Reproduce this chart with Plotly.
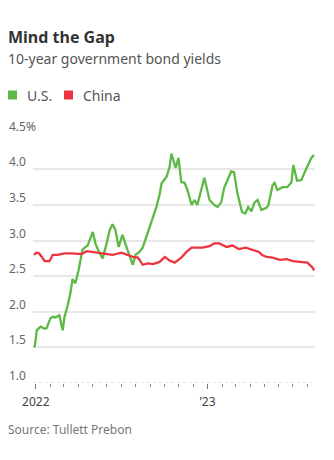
import plotly.graph_objects as go

# ---- data ----
us_dates = ["2021-12-28","2021-12-30","2022-01-03","2022-01-11","2022-01-20","2022-01-24","2022-02-01",
            "2022-02-06","2022-02-12","2022-02-20","2022-02-27","2022-03-03","2022-03-09","2022-03-16",
            "2022-03-20","2022-03-26","2022-04-02","2022-04-06","2022-04-10","2022-04-15","2022-04-21",
            "2022-05-02","2022-05-08","2022-05-16","2022-05-23","2022-05-31","2022-06-07","2022-06-13",
            "2022-06-19","2022-06-26","2022-07-04","2022-07-13","2022-07-19","2022-07-26","2022-08-01",
            "2022-08-09","2022-08-16","2022-08-24","2022-08-30","2022-09-08","2022-09-14","2022-09-21",
            "2022-09-25","2022-10-06","2022-10-12","2022-10-16","2022-10-25","2022-10-31","2022-11-06",
            "2022-11-13","2022-11-19","2022-11-28","2022-12-04","2022-12-10","2022-12-19","2022-12-25",
            "2023-01-05","2023-01-15","2023-01-22","2023-01-30","2023-02-05","2023-02-16","2023-02-20",
            "2023-02-26","2023-03-05","2023-03-15","2023-03-22","2023-03-28","2023-04-04","2023-04-10",
            "2023-04-17","2023-04-25","2023-05-06","2023-05-10","2023-05-19","2023-05-23","2023-05-29",
            "2023-06-09","2023-06-19","2023-06-28","2023-07-02","2023-07-10","2023-07-19","2023-07-29",
            "2023-08-09","2023-08-15"]
us_values = [1.50, 1.52, 1.74, 1.79, 1.76, 1.77, 1.91,
             1.93, 1.92, 1.95, 1.74, 1.93, 2.07, 2.28,
             2.46, 2.40, 2.59, 2.75, 2.87, 2.90, 2.93,
             3.12, 2.95, 2.83, 2.75, 2.95, 3.15, 3.23,
             3.15, 2.91, 3.08, 2.90, 2.80, 2.66, 2.80,
             2.84, 2.90, 3.05, 3.19, 3.33, 3.47, 3.65,
             3.80, 3.90, 4.03, 4.22, 4.02, 4.16, 3.82,
             3.81, 3.71, 3.50, 3.57, 3.50, 3.75, 3.88,
             3.57, 3.50, 3.47, 3.54, 3.74, 3.90, 3.97,
             3.96, 3.67, 3.40, 3.38, 3.47, 3.41, 3.53,
             3.57, 3.43, 3.46, 3.50, 3.78, 3.81, 3.71,
             3.75, 3.75, 3.82, 4.06, 3.84, 3.85, 4.00,
             4.16, 4.20]

cn_dates = ["2021-12-28","2022-01-02","2022-01-08","2022-01-14","2022-01-20","2022-01-30","2022-02-06",
            "2022-02-16","2022-03-03","2022-03-18","2022-04-08","2022-04-19","2022-05-02","2022-05-23",
            "2022-06-13","2022-07-02","2022-07-13","2022-07-26","2022-08-06","2022-08-16","2022-08-27",
            "2022-09-07","2022-09-21","2022-10-02","2022-10-12","2022-10-23","2022-11-06","2022-11-17",
            "2022-11-28","2022-12-08","2022-12-21","2023-01-05","2023-01-15","2023-01-26","2023-02-10",
            "2023-02-23","2023-03-08","2023-03-23","2023-04-05","2023-04-20","2023-04-26","2023-05-06",
            "2023-05-19","2023-06-03","2023-06-18","2023-07-01","2023-07-16","2023-07-26","2023-08-01",
            "2023-08-12","2023-08-15"]
cn_values = [2.80, 2.83, 2.82, 2.76, 2.71, 2.71, 2.80,
             2.80, 2.82, 2.82, 2.81, 2.85, 2.84, 2.82,
             2.80, 2.83, 2.80, 2.77, 2.76, 2.66, 2.68,
             2.67, 2.70, 2.77, 2.72, 2.69, 2.76, 2.84,
             2.90, 2.90, 2.90, 2.92, 2.96, 2.96, 2.91,
             2.93, 2.88, 2.90, 2.87, 2.84, 2.80, 2.77,
             2.76, 2.73, 2.74, 2.71, 2.70, 2.69, 2.69,
             2.62, 2.58]

y_ticks = [1.0, 1.5, 2.0, 2.5, 3.0, 3.5, 4.0, 4.5]
y_tick_labels = ["1.0", "1.5", "2.0", "2.5", "3.0", "3.5", "4.0", "4.5%"]
x_ticks = ["2022-01-01", "2023-01-01"]
x_tick_labels = ["2022", "\u201923"]
x_range = ["2021-12-26", "2023-08-17"]

title = "Mind the Gap"
subtitle = "10-year government bond yields"
source = "Source: Tullett Prebon"
series_names = ["U.S.", "China"]
colors = ["#5cb946", "#ec3340"]

# ---- layout geometry ----
W, H = 334, 460
L, R, T, B = 33, 19, 133, 77
PW, PH = W - L - R, H - T - B
FONT = "Noto Sans"


def fx(px):
    return (px - L) / PW


def fy(py):
    return (H - B - py) / PH


fig = go.Figure()
fig.add_trace(go.Scatter(x=us_dates, y=us_values, mode="lines", name=series_names[0],
                         line=dict(color=colors[0], width=2.3), showlegend=False, hoverinfo="skip"))
fig.add_trace(go.Scatter(x=cn_dates, y=cn_values, mode="lines", name=series_names[1],
                         line=dict(color=colors[1], width=2.3), showlegend=False, hoverinfo="skip"))

annotations = []
# y tick labels, left aligned above gridlines
for v, t in zip(y_ticks, y_tick_labels):
    annotations.append(dict(xref="paper", x=fx(7), xanchor="left", yref="y", y=v, yanchor="bottom",
                            yshift=-3, text=t, showarrow=False,
                            font=dict(family=FONT, size=12, color="#666666")))
annotations += [
    dict(xref="paper", x=fx(6), xanchor="left", yref="paper", y=fy(37), yanchor="middle",
         text="<b>" + title + "</b>", showarrow=False, font=dict(family=FONT, size=16, color="#333333")),
    dict(xref="paper", x=fx(6), xanchor="left", yref="paper", y=fy(59), yanchor="middle",
         text=subtitle, showarrow=False, font=dict(family=FONT, size=14, color="#555555")),
    dict(xref="paper", x=fx(25), xanchor="left", yref="paper", y=fy(95), yanchor="middle",
         text=series_names[0], showarrow=False, font=dict(family=FONT, size=14, color="#555555")),
    dict(xref="paper", x=fx(81), xanchor="left", yref="paper", y=fy(95), yanchor="middle",
         text=series_names[1], showarrow=False, font=dict(family=FONT, size=14, color="#555555")),
    dict(xref="paper", x=fx(6), xanchor="left", yref="paper", y=fy(429), yanchor="middle",
         text=source, showarrow=False, font=dict(family=FONT, size=12, color="#777777")),
]

shapes = [
    dict(type="rect", xref="paper", yref="paper", x0=fx(8), x1=fx(17), y0=fy(99.5), y1=fy(90.5),
         fillcolor=colors[0], line=dict(width=0)),
    dict(type="rect", xref="paper", yref="paper", x0=fx(64), x1=fx(73), y0=fy(99.5), y1=fy(90.5),
         fillcolor=colors[1], line=dict(width=0)),
    # dotted baseline
    dict(type="line", xref="paper", yref="y", x0=0, x1=1, y0=y_ticks[0], y1=y_ticks[0],
         line=dict(color="#c8c8c8", width=1, dash="dot")),
]

fig.update_layout(
    width=W, height=H, margin=dict(l=L, r=R, t=T, b=B),
    paper_bgcolor="white", plot_bgcolor="white",
    font=dict(family=FONT, size=12, color="#444444"),
    showlegend=False,
    annotations=annotations, shapes=shapes,
    xaxis=dict(type="date", range=x_range, tickvals=x_ticks, ticktext=x_tick_labels,
               ticks="outside", ticklen=5, tickwidth=1, tickcolor="#777777",
               showgrid=False, showline=False, zeroline=False,
               ticklabelstandoff=3,
               tickfont=dict(family=FONT, size=12, color="#444444"),
               minor=dict(dtick="M1", tick0="2022-01-01", ticks="outside", ticklen=3,
                          tickwidth=1, tickcolor="#888888", showgrid=False)),
    yaxis=dict(range=[y_ticks[0], y_ticks[-1] + 0.01], tickvals=y_ticks[1:], showticklabels=False,
               showgrid=True, gridcolor="#e8e8e8", gridwidth=1.5, zeroline=False, showline=False,
               ticks=""),
)

fig.write_html("out.html")
